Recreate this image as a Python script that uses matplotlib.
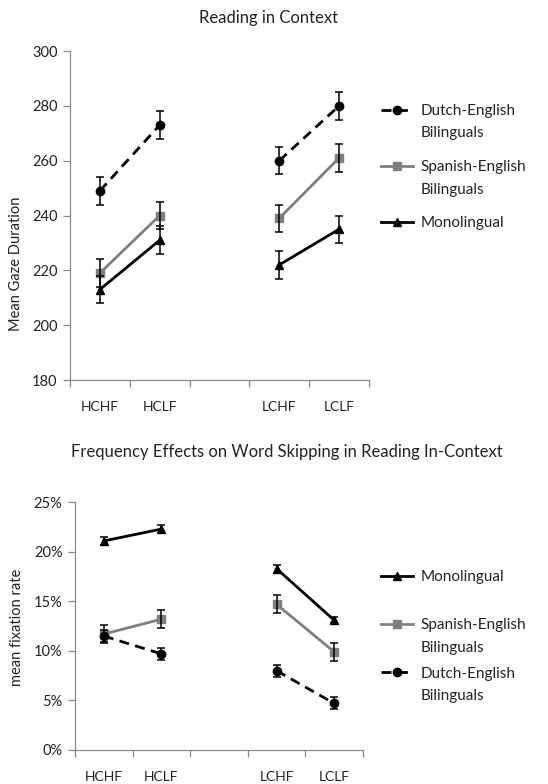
import numpy as np
import matplotlib
matplotlib.use("Agg")
import matplotlib.pyplot as plt
from matplotlib.ticker import FixedLocator, PercentFormatter

plt.rcParams["font.family"] = ["Lato", "DejaVu Sans"]

conditions = ["HCHF", "HCLF", "", "LCHF", "LCLF"]
cond_pos = [0, 1, 3, 4]

# Reading in Context: mean gaze duration
gaze_dutch = [249, 273, 260, 280]
gaze_spanish = [219, 240, 239, 261]
gaze_mono = [213, 231, 222, 235]
gaze_err_dutch = [5, 5, 5, 5]
gaze_err_spanish = [5, 5, 5, 5]
gaze_err_mono = [5, 5, 5, 5]

# Word skipping: mean fixation rate (%)
fix_mono = [21.1, 22.3, 18.3, 13.1]
fix_spanish = [11.7, 13.2, 14.7, 9.9]
fix_dutch = [11.5, 9.7, 8.0, 4.7]
fix_err_mono = [0.4, 0.4, 0.4, 0.3]
fix_err_spanish = [0.9, 0.9, 0.9, 0.9]
fix_err_dutch = [0.6, 0.6, 0.6, 0.6]

TXT = "#222222"
AXC = "#8a8a8a"
GREY = "#7f7f7f"

DUTCH, SPAN, MONO = "Dutch-English", "Spanish-English", "Monolingual"
SECOND_LINE = {DUTCH: "Bilinguals", SPAN: "Bilinguals"}

STYLES = {
    DUTCH: dict(color="black", ls=(0, (3.6, 2.3)), marker="o", mfc="black"),
    SPAN: dict(color=GREY, ls="-", marker="s", mfc=GREY),
    MONO: dict(color="black", ls="-", marker="^", mfc="black"),
}


def draw_series(ax, name, vals, errs):
    st = STYLES[name]
    x = np.array(cond_pos)
    v = np.array(vals, float)
    e = np.array(errs, float)
    line = None
    for sl in (slice(0, 2), slice(2, 4)):
        line, = ax.plot(x[sl], v[sl], color=st["color"], ls=st["ls"], lw=2.0,
                        marker=st["marker"], ms=6, mfc=st["mfc"], mec=st["mfc"],
                        label=name, zorder=3)
    ax.errorbar(x, v, yerr=e, fmt="none", ecolor="black", elinewidth=1.1,
                capsize=3, capthick=1.1, zorder=4)
    return line


def style_axes(ax):
    for s in ("top", "right"):
        ax.spines[s].set_visible(False)
    for s in ("left", "bottom"):
        ax.spines[s].set_color(AXC)
        ax.spines[s].set_linewidth(0.9)
    ax.set_xlim(-0.5, 4.5)
    ax.set_xticks(cond_pos)
    ax.set_xticklabels([conditions[i] for i in cond_pos])
    ax.xaxis.set_minor_locator(FixedLocator(np.arange(-0.5, 5.0, 1.0)))
    ax.tick_params(axis="x", which="major", length=0, pad=15, labelsize=10, labelcolor=TXT)
    ax.tick_params(axis="x", which="minor", length=5, width=0.9, color=AXC, direction="out")
    ax.tick_params(axis="y", length=5, width=0.9, color=AXC, pad=4, labelsize=10.5, labelcolor=TXT)


def add_legend(ax, handles, order, anchor, spacing):
    leg = ax.legend([handles[k] for k in order], order, loc="upper left",
                    bbox_to_anchor=anchor, bbox_transform=fig.transFigure,
                    frameon=False, fontsize=11, handlelength=2.1, handletextpad=0.5,
                    labelspacing=spacing, borderpad=0, borderaxespad=0, labelcolor=TXT)
    # second line of two-line labels sits under the first, handle stays on line one
    for txt in leg.get_texts():
        extra = SECOND_LINE.get(txt.get_text())
        if extra:
            ax.annotate(extra, xy=(0, 0), xycoords=txt, xytext=(0, -16),
                        textcoords="offset points", ha="left", va="bottom",
                        fontsize=11, color=TXT, annotation_clip=False, zorder=10)
    return leg


fig = plt.figure(figsize=(5.48, 7.84), dpi=100)

# --- Top panel
ax1 = fig.add_axes([0.1277, 0.5153, 0.5456, 0.4196])
h = {}
h[DUTCH] = draw_series(ax1, DUTCH, gaze_dutch, gaze_err_dutch)
h[SPAN] = draw_series(ax1, SPAN, gaze_spanish, gaze_err_spanish)
h[MONO] = draw_series(ax1, MONO, gaze_mono, gaze_err_mono)
ax1.set_ylim(180, 300)
ax1.set_yticks(np.arange(180, 301, 20))
style_axes(ax1)
ax1.set_ylabel("Mean Gaze Duration", fontsize=10.5, color=TXT)
ax1.yaxis.set_label_coords(-0.157, 0.353)
fig.text(0.49, 0.977, "Reading in Context", ha="center", va="center", fontsize=12, color=TXT)
add_legend(ax1, h, [DUTCH, SPAN, MONO], (0.695, 0.867), 2.75)

# --- Bottom panel
ax2 = fig.add_axes([0.1369, 0.0434, 0.5255, 0.3159])
h2 = {}
h2[MONO] = draw_series(ax2, MONO, fix_mono, fix_err_mono)
h2[SPAN] = draw_series(ax2, SPAN, fix_spanish, fix_err_spanish)
h2[DUTCH] = draw_series(ax2, DUTCH, fix_dutch, fix_err_dutch)
ax2.set_ylim(0, 25)
ax2.set_yticks(np.arange(0, 26, 5))
ax2.yaxis.set_major_formatter(PercentFormatter(decimals=0))
style_axes(ax2)
ax2.set_ylabel("mean fixation rate", fontsize=10.5, color=TXT)
ax2.yaxis.set_label_coords(-0.177, 0.496)
fig.text(0.524, 0.423, "Frequency Effects on Word Skipping in Reading In-Context",
         ha="center", va="center", fontsize=12, color=TXT)
add_legend(ax2, h2, [MONO, SPAN, DUTCH], (0.695, 0.273), 2.25)

fig.savefig("out.png", dpi=100)
